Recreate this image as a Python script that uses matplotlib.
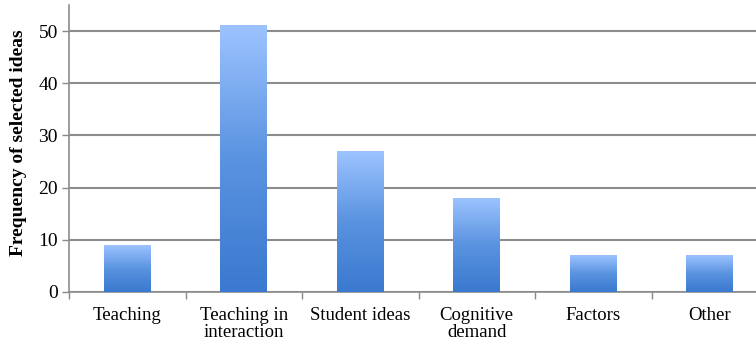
import matplotlib
matplotlib.use("Agg")
import matplotlib.pyplot as plt
import numpy as np
from matplotlib.colors import LinearSegmentedColormap

categories = ["Teaching", "Teaching in\ninteraction", "Student ideas",
              "Cognitive\ndemand", "Factors", "Other"]
values = [9, 51, 27, 18, 7, 7]
yticks = [0, 10, 20, 30, 40, 50]

plt.rcParams['font.family'] = ['Liberation Serif', 'DejaVu Serif']

fig = plt.figure(figsize=(7.56, 3.41), dpi=100)
ax = fig.add_axes([69/756, 1 - 292/341, 699/756, 287/341])

x = np.arange(len(categories))
width = 0.4
bars = ax.bar(x, values, width=width, color='none', edgecolor='none', zorder=3)

cmap = LinearSegmentedColormap.from_list("g", ["#3a79cf", "#5a93e0", "#9cc3ff"])
grad = np.linspace(0, 1, 256).reshape(-1, 1)
for b in bars:
    x0 = b.get_x(); w = b.get_width(); h = b.get_height()
    ax.imshow(grad, extent=[x0, x0 + w, 0, h], origin='lower', aspect='auto',
              cmap=cmap, zorder=3, interpolation='bicubic')

ax.set_xlim(-0.5, len(categories) - 0.5)
ax.set_ylim(0, 55)
ax.set_yticks(yticks)
ax.set_xticks(x)
ax.set_xticklabels(categories, fontsize=13.5, linespacing=1.0)
ax.set_xticks(np.arange(len(categories) + 1) - 0.5, minor=True)
ax.tick_params(axis='x', which='major', length=0, pad=11)
ax.tick_params(axis='x', which='minor', length=5, color='#888888', width=1)
ax.tick_params(axis='y', length=5, color='#888888', width=1, labelsize=14, pad=3)

ax.yaxis.grid(True, color='#8c8c8c', linewidth=1.5, zorder=1)
ax.set_axisbelow(True)
for s in ['top', 'right']:
    ax.spines[s].set_visible(False)
for s in ['left', 'bottom']:
    ax.spines[s].set_color('#8c8c8c')
    ax.spines[s].set_linewidth(1.2)

ax.set_ylabel("Frequency of selected ideas", fontsize=14, fontweight='bold')
ax.yaxis.set_label_coords(-0.06, 0.52)

fig.savefig("out.png", dpi=100)
